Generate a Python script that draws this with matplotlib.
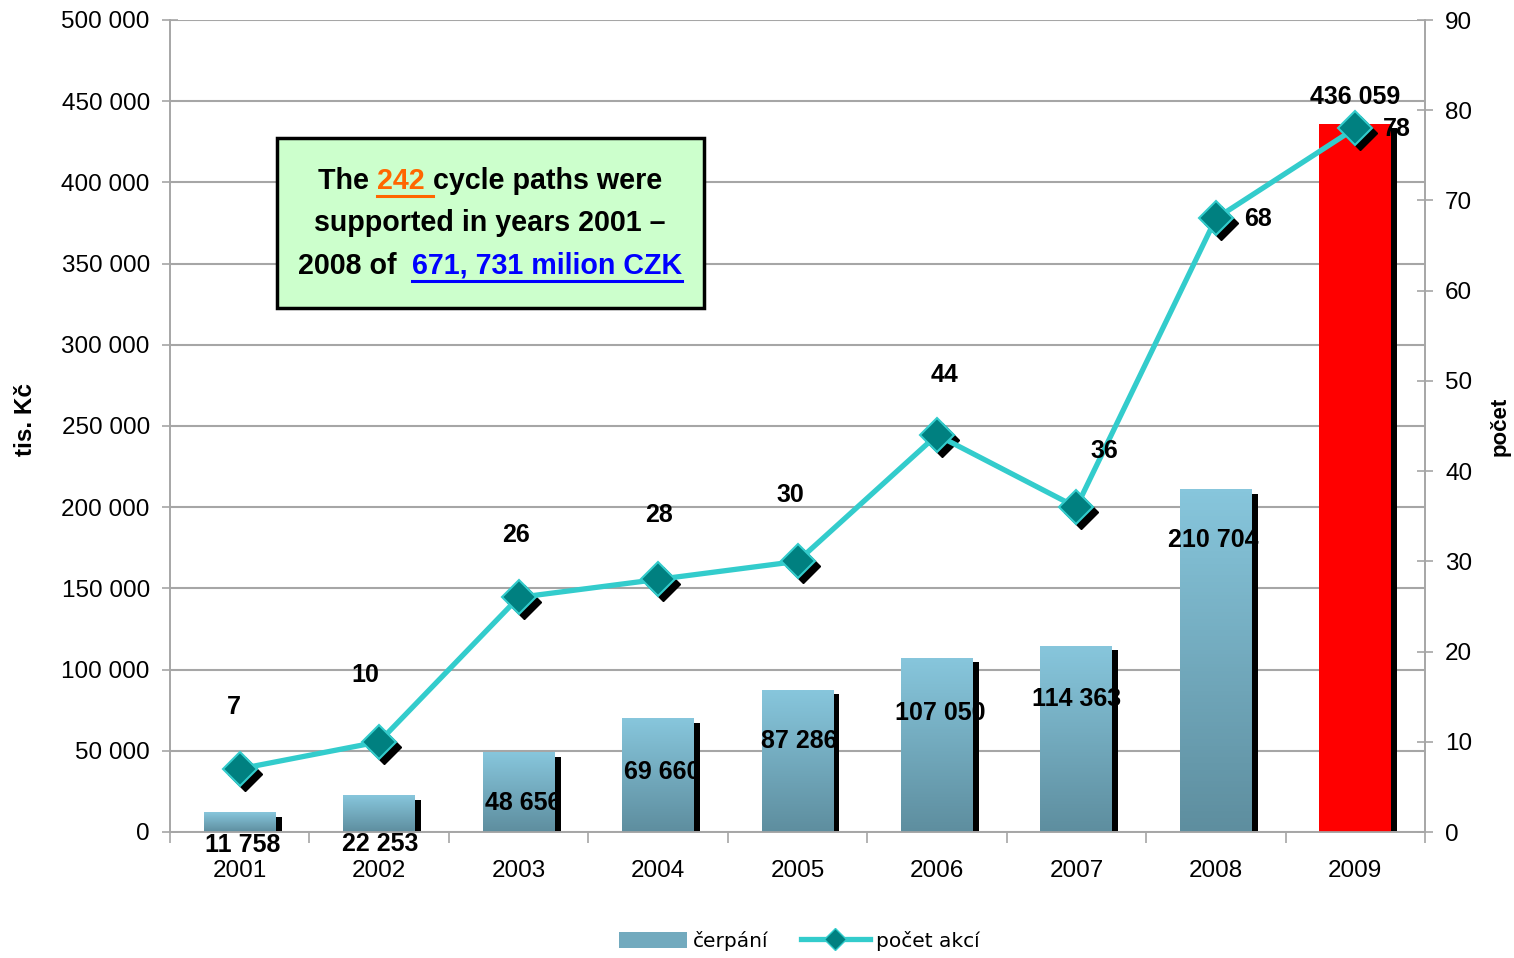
import numpy as np
import matplotlib
matplotlib.use("Agg")
import matplotlib.pyplot as plt
from matplotlib import font_manager
from matplotlib.colors import LinearSegmentedColormap
from matplotlib.patches import Rectangle, Patch
from matplotlib.lines import Line2D
from matplotlib.transforms import offset_copy

# data
years = ["2001", "2002", "2003", "2004", "2005", "2006", "2007", "2008", "2009"]
cerpani = [11758, 22253, 48656, 69660, 87286, 107050, 114363, 210704, 436059]
pocet_akci = [7, 10, 26, 28, 30, 44, 36, 68, 78]
bar_labels = ["11 758", "22 253", "48 656", "69 660", "87 286",
              "107 050", "114 363", "210 704", "436 059"]

# label offsets in pixels (dx, dy)
bar_lab_off = [(3, -32), (1, -48), (5, -50), (4, -53), (2, -51),
               (3, -55), (0, -53), (-3, -50), (0, 27)]
line_lab_off = [(-6, 62), (-14, 67), (-3, 62), (1, 64), (-7, 66),
                (8, 60), (28, 56), (42, -1), (42, -1)]

W, H = 1514, 958
names = {f.name for f in font_manager.fontManager.ttflist}
if "Liberation Sans Narrow" in names:
    NARROW, k = "Liberation Sans Narrow", 1.22
else:
    NARROW, k = "Liberation Sans", 1.0
plt.rcParams["font.family"] = [NARROW, "DejaVu Sans"]


def fx(x):
    return x / W


def fy(y):
    return 1 - y / H


fig = plt.figure(figsize=(W / 100, H / 100), dpi=100)
ax = fig.add_axes([fx(170), fy(832), fx(1425) - fx(170), fy(20) - fy(832)])
ax2 = ax.twinx()

x = np.arange(len(years))
bw = 0.516
sh_dx = 6 / 139.4
sh_dy = 4 / 812 * 500000

grad = LinearSegmentedColormap.from_list("g", ["#5E8E9F", "#87C6DC"])
for i, v in enumerate(cerpani):
    ax.bar(x[i] + sh_dx, v - sh_dy, width=bw, color="black", zorder=2)
    if i == len(years) - 1:
        ax.bar(x[i], v, width=bw, color="#FF0000", zorder=3)
    else:
        ax.imshow(np.linspace(0, 1, 100).reshape(-1, 1), cmap=grad,
                  origin="lower", aspect="auto", zorder=3,
                  extent=[x[i] - bw / 2, x[i] + bw / 2, 0, v])
    ax.annotate(bar_labels[i], (x[i], v), xytext=bar_lab_off[i],
                textcoords="offset pixels", ha="center", va="center",
                fontsize=18 * k, fontweight="bold", zorder=6)

ax.set_xlim(-0.5, len(years) - 0.5)
ax.set_ylim(0, 500000)
ax.set_yticks(np.arange(0, 500001, 50000))
ax.set_yticklabels([f"{t:,}".replace(",", " ") for t in range(0, 500001, 50000)])
ax.yaxis.grid(True, color="#A6A6A6", linewidth=1.5, zorder=0)
ax.set_axisbelow(True)
ax.set_xticks(x)
ax.set_xticklabels(years)
ax.set_xticks(np.arange(-0.5, len(years), 1), minor=True)
ax.tick_params(axis="x", which="major", length=0, pad=20, labelsize=17.5 * k)
ax.tick_params(axis="x", which="minor", length=8, width=1.2, color="#A6A6A6",
               direction="out")
ax.tick_params(axis="y", length=11, width=1.2, color="#A6A6A6",
               direction="inout", pad=9, labelsize=17.5 * k)

# line on right axis
shadow_tr = offset_copy(ax2.transData, fig=fig, x=5, y=-5, units="dots")
ax2.plot(x, pocet_akci, linestyle="none", marker="D", markersize=17,
         color="black", transform=shadow_tr, zorder=3)
ax2.plot(x, pocet_akci, color="#33CCCC", linewidth=3.8, marker="D",
         markersize=17, markerfacecolor="#008080", markeredgecolor="#33CCCC",
         markeredgewidth=1.5, zorder=4)
for i, v in enumerate(pocet_akci):
    ax2.annotate(str(v), (x[i], v), xytext=line_lab_off[i],
                 textcoords="offset pixels", ha="center", va="center",
                 fontsize=18 * k, fontweight="bold", zorder=6)
ax2.set_ylim(0, 90)
ax2.set_yticks(np.arange(0, 91, 10))
ax2.tick_params(axis="y", length=11, width=1.2, color="#A6A6A6",
                direction="inout", pad=9, labelsize=17.5 * k)

for a in (ax, ax2):
    for s in ("left", "right", "bottom"):
        a.spines[s].set_color("#A6A6A6")
        a.spines[s].set_linewidth(1.2)
    a.spines["top"].set_visible(False)

fig.text(fx(25), fy(420), "tis. Kč", rotation=90, ha="center", va="center",
         fontsize=17.5 * k, fontweight="bold")
fig.text(fx(1500), fy(426), "počet", rotation=90, ha="center", va="center",
         fontsize=16 * k, fontweight="bold")

# info box
fig.patches.append(Rectangle((fx(277), fy(308)), fx(704) - fx(277),
                             fy(138) - fy(308), transform=fig.transFigure,
                             facecolor="#CCFFCC", edgecolor="black",
                             linewidth=2.5, zorder=5))
box_lines = [
    [("The ", "black", False), ("242 ", "#FF6600", True),
     ("cycle paths were", "black", False)],
    [("supported in years 2001 \u2013", "black", False)],
    [("2008 of  ", "black", False), ("671, 731 milion CZK", "#0000FF", True)],
]
box_y = [181, 223, 266]
renderer = fig.canvas.get_renderer()
for segs, yc in zip(box_lines, box_y):
    items = []
    for txt, col, ul in segs:
        t = fig.text(0, fy(yc), txt, color=col, ha="left", va="center",
                     fontsize=20.6 * k, fontweight="bold", zorder=6)
        items.append((t, ul))
    widths = [t.get_window_extent(renderer).width for t, _ in items]
    x0 = 490 - sum(widths) / 2
    for (t, ul), w in zip(items, widths):
        t.set_x(fx(x0))
        if ul:
            fig.add_artist(Line2D([fx(x0), fx(x0 + w)], [fy(yc + 15)] * 2,
                                  color=t.get_color(), linewidth=2.2,
                                  transform=fig.transFigure, zorder=6))
        x0 += w

handles = [Patch(facecolor="#72AABE", edgecolor="none"),
           Line2D([], [], color="#33CCCC", linewidth=3.8, marker="D",
                  markersize=11, markerfacecolor="#008080",
                  markeredgecolor="#33CCCC")]
fig.legend(handles, ["čerpání", "počet akcí"], loc="center",
           bbox_to_anchor=(fx(799), fy(941)), ncol=2, frameon=False,
           handlelength=3.4, handleheight=0.9,
           columnspacing=1.6, handletextpad=0.3,
           prop={"family": ["DejaVu Sans"], "size": 14.5})

fig.savefig("out.png", dpi=100)
